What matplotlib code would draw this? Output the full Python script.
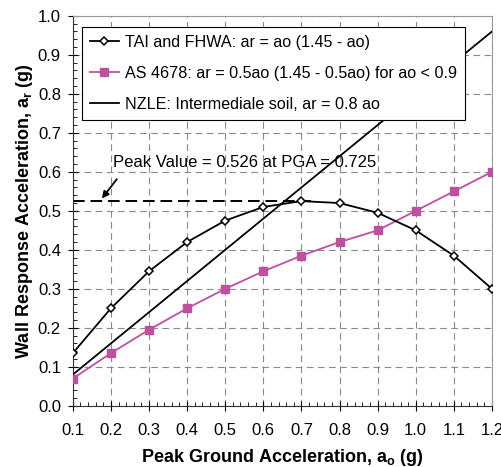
import matplotlib
matplotlib.use("Agg")
import matplotlib.pyplot as plt
from matplotlib.ticker import MultipleLocator

ao = [0.1, 0.2, 0.3, 0.4, 0.5, 0.6, 0.7, 0.8, 0.9, 1.0, 1.1, 1.2]
tai = [0.135, 0.25, 0.345, 0.42, 0.475, 0.51, 0.525, 0.52, 0.495, 0.45, 0.385, 0.30]
as4678 = [0.07, 0.135, 0.195, 0.25, 0.30, 0.345, 0.385, 0.42, 0.45, 0.50, 0.55, 0.60]
nzle_x = [0.1, 1.2]
nzle_y = [0.08, 0.96]
peak_val = 0.526
peak_pga = 0.725

labels = ["TAI and FHWA: ar = ao (1.45 - ao)",
          "AS 4678: ar = 0.5ao (1.45 - 0.5ao) for ao < 0.9",
          "NZLE: Intermediale soil, ar = 0.8 ao"]

plt.rcParams['font.family'] = ['Liberation Sans', 'DejaVu Sans']
fig = plt.figure(figsize=(5.02, 4.67), dpi=100)
ax = fig.add_axes([0.145, 0.131, 0.835, 0.835])

ax.grid(True, which='major', color='#8a8a8a', linestyle=(0, (6, 4)), linewidth=0.8)
ax.set_axisbelow(True)

l1, = ax.plot(ao, tai, color='black', lw=1.3, marker='D', markersize=4.5,
              markerfacecolor='white', markeredgecolor='black', markeredgewidth=1.1, zorder=4)
l2, = ax.plot(ao, as4678, color='#C04FA0', lw=1.3, marker='s', markersize=5.5,
              markerfacecolor='#C04FA0', markeredgecolor='#C04FA0', zorder=3)
l3, = ax.plot(nzle_x, nzle_y, color='black', lw=1.3, zorder=3)

ax.plot([0.1, peak_pga], [peak_val, peak_val], color='black', lw=1.4,
        linestyle=(0, (6, 3)), zorder=2)
ax.annotate('', xy=(0.172, peak_val), xytext=(0.22, 0.587),
            arrowprops=dict(arrowstyle='-|>', color='black', lw=1.3, mutation_scale=10))
ax.text(0.205, 0.623, 'Peak Value = 0.526 at PGA = 0.725', fontsize=12,
        ha='left', va='center')

ax.set_xlim(0.1, 1.2)
ax.set_ylim(0.0, 1.0)
ax.xaxis.set_minor_locator(MultipleLocator(0.02))
ax.yaxis.set_minor_locator(MultipleLocator(0.02))
ax.set_xticks([round(v, 1) for v in ao])
ax.set_xticklabels([f"{v:.1f}" for v in ao])
ax.set_yticks([i / 10 for i in range(11)])
ax.set_yticklabels([f"{i/10:.1f}" for i in range(11)])
ax.tick_params(which='major', direction='inout', length=7, width=0.8, labelsize=12, pad=5)
ax.tick_params(which='minor', direction='in', length=3, width=0.6)
ax.tick_params(axis='x', which='major', pad=9)

for s in ['top', 'right']:
    ax.spines[s].set_color('#999999')
for s in ['left', 'bottom']:
    ax.spines[s].set_color('#333333')

ax.set_xlabel(r'Peak Ground Acceleration, a$_\mathregular{o}$ (g)', fontsize=13, fontweight='bold', labelpad=6)
ax.set_ylabel(r'Wall Response Acceleration, a$_\mathregular{r}$ (g)', fontsize=13, fontweight='bold', labelpad=2)

leg = ax.legend([l1, l2, l3], labels, loc='upper left', bbox_to_anchor=(0.01, 0.985),
                fontsize=11.6, frameon=True, fancybox=False, framealpha=1,
                edgecolor='black', handlelength=1.8, borderpad=0.5, labelspacing=1.0,
                handletextpad=0.4, borderaxespad=0.3)
leg.get_frame().set_linewidth(0.8)
leg.set_zorder(5)

fig.savefig('out.png', dpi=100)
